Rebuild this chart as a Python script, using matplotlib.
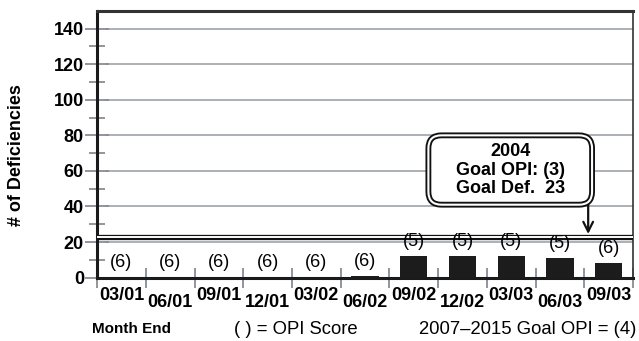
import matplotlib.pyplot as plt
from matplotlib.patches import FancyBboxPatch
from matplotlib.transforms import blended_transform_factory, ScaledTranslation, IdentityTransform

months = ['03/01', '06/01', '09/01', '12/01', '03/02', '06/02',
          '09/02', '12/02', '03/03', '06/03', '09/03']
deficiencies = [0, 0, 0, 0, 0, 1, 12, 12, 12, 11, 8]
opi = [6, 6, 6, 6, 6, 6, 5, 5, 5, 5, 6]
goal_def = 23
goal_opi = 3
goal_year = '2004'

narrow = ['Liberation Sans Narrow', 'Liberation Sans', 'DejaVu Sans']
plain = ['Liberation Sans', 'DejaVu Sans']
tick_c = '#878d93'
grid_c = '#aab0b6'

fig = plt.figure(figsize=(6.39, 3.41), dpi=100)
ax = fig.add_axes([0.152, 0.186, 0.8386, 0.782])
ax.set_xlim(-0.5, len(months) - 0.5)
ax.set_ylim(0, 150)

x = list(range(len(months)))
ax.bar(x, deficiencies, width=0.56, color='#1c1c1c', zorder=3)

# opi score over each bar
for i, (d, s) in enumerate(zip(deficiencies, opi)):
    ax.annotate('(%d)' % s, (i, d), xytext=(0, 4.5), textcoords='offset points',
                ha='center', va='bottom', fontsize=13, family=plain, zorder=9)

# y axis
ax.set_yticks(range(0, 141, 20))
ax.set_yticks(range(10, 141, 20), minor=True)
ax.tick_params(axis='y', which='major', direction='inout', length=17, width=1.3,
               color=tick_c, pad=1, labelsize=13)
ax.tick_params(axis='y', which='minor', direction='inout', length=11, width=1.3,
               color=tick_c)
for lab in ax.get_yticklabels():
    lab.set_family(narrow)
    lab.set_fontweight('bold')

# callout box extents (data units)
bx0, by0, bx1, by1 = 6.3, 41, 9.66, 80

# horizontal grid, starting just right of the tick marks, broken by the callout
x_end = len(months) - 0.5
for v in range(20, 141, 20):
    if by0 < v < by1:
        ax.hlines([v, v], [-0.33, bx1], [bx0, x_end], colors=grid_c, lw=1.4,
                  zorder=1.5)
    else:
        ax.hlines(v, -0.33, x_end, colors=grid_c, lw=1.4, zorder=1.5)

# x axis: ticks on the boundaries, labels staggered
ax.set_xticks([i - 0.5 for i in range(len(months) + 1)])
ax.set_xticklabels([])
ax.tick_params(axis='x', direction='inout', length=14, width=1.3, color=tick_c)
trans = blended_transform_factory(ax.transData, ax.transAxes)
for i, m in enumerate(months):
    dy = -7 if i % 2 == 0 else -11.5
    t = trans + ScaledTranslation(0, dy / 72, fig.dpi_scale_trans)
    ax.text(i, 0, m, transform=t, ha='center', va='top', fontsize=13,
            fontweight='bold', family=narrow)

for side in ['left', 'bottom']:
    ax.spines[side].set_linewidth(2.2)
    ax.spines[side].set_color('#1a1a1a')
ax.spines['top'].set_linewidth(2.2)
ax.spines['top'].set_color('#333333')
ax.spines['right'].set_linewidth(1.2)
ax.spines['right'].set_color('#333333')

# goal line (double)
ax.axhline(goal_def, color='#111111', lw=3.8, zorder=5, solid_capstyle='butt')
ax.axhline(goal_def, color='white', lw=1.4, zorder=6, solid_capstyle='butt')

# goal callout, double rounded border drawn in pixels
(x0, y0) = ax.transData.transform((bx0, by0))
(x1, y1) = ax.transData.transform((bx1, by1))
for lw, ec in [(4.2, '#111111'), (1.5, 'white')]:
    ax.add_patch(FancyBboxPatch((x0, y0), x1 - x0, y1 - y0,
                                boxstyle='round,pad=0,rounding_size=13',
                                transform=IdentityTransform(),
                                facecolor='none', edgecolor=ec, lw=lw, zorder=7))
ax.text((bx0 + bx1) / 2, (by0 + by1) / 2,
        '%s\nGoal OPI: (%d)\nGoal Def.  %d' % (goal_year, goal_opi, goal_def),
        ha='center', va='center', fontsize=13, fontweight='bold', family=plain,
        linespacing=1.1, zorder=8)
ax.annotate('', xy=(9.58, goal_def + 1.5), xytext=(9.58, by0 + 0.8),
            arrowprops=dict(arrowstyle='->,head_length=0.7,head_width=0.35',
                            color='#111111', lw=1.6, shrinkA=0, shrinkB=0),
            zorder=6.5)

fig.text(17 / 639, 1 - 155 / 341, '# of Deficiencies', rotation=90,
         ha='center', va='center', fontsize=13, fontweight='bold', family=narrow)
fig.text(92 / 639, 1 - 329 / 341, 'Month End', ha='left', va='center',
         fontsize=11, fontweight='bold', family=narrow)
fig.text(234 / 639, 1 - 329 / 341, '( ) = OPI Score', ha='left', va='center',
         fontsize=13.3, family=plain)
fig.text(636 / 639, 1 - 329 / 341, '2007\u20132015 Goal OPI = (4)', ha='right',
         va='center', fontsize=13.3, family=plain)

fig.savefig('out.png', dpi=100)
